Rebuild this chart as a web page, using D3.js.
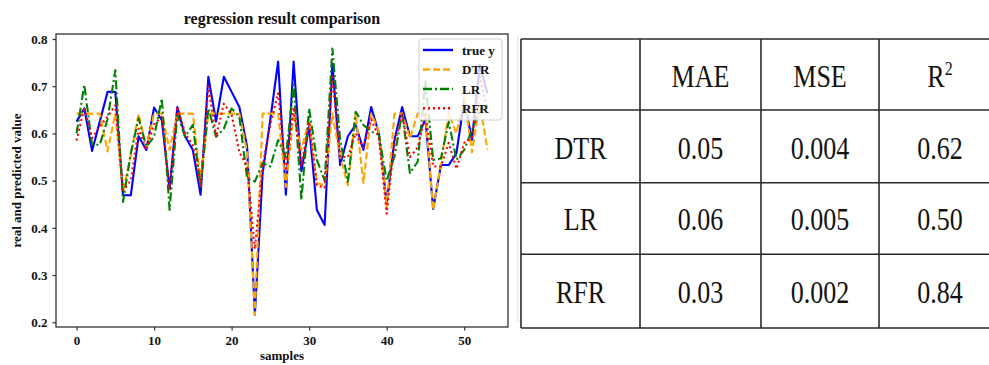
<!DOCTYPE html>
<html>
<head>
<meta charset="utf-8">
<script src="https://cdn.jsdelivr.net/npm/d3@7"></script>
<style>
  html, body { margin: 0; padding: 0; background: #fff; }
  svg { display: block; }
  text { font-family: "Liberation Serif", "Times New Roman", serif; }
</style>
</head>
<body>
<svg id="chart" width="989" height="365"></svg>
<script>
// ---------------- data ----------------
const samples = d3.range(54);
const trueY = [0.625,0.653,0.563,0.625,0.688,0.688,0.469,0.469,0.594,0.565,
               0.655,0.628,0.482,0.656,0.594,0.565,0.470,0.720,0.625,0.720,
               0.688,0.656,0.572,0.216,0.516,0.630,0.752,0.470,0.752,0.520,
               0.615,0.438,0.406,0.748,0.533,0.594,0.618,0.565,0.656,0.600,
               0.452,0.586,0.656,0.594,0.594,0.630,0.440,0.533,0.533,0.558,
               0.670,0.586,0.745,0.685];
const dtr   = [0.642,0.642,0.642,0.642,0.562,0.642,0.477,0.555,0.642,0.570,
               0.642,0.642,0.565,0.642,0.642,0.642,0.500,0.642,0.642,0.642,
               0.642,0.642,0.560,0.216,0.642,0.642,0.642,0.487,0.642,0.565,
               0.630,0.495,0.490,0.642,0.550,0.490,0.642,0.495,0.642,0.605,
               0.444,0.642,0.642,0.590,0.642,0.642,0.438,0.537,0.642,0.600,
               0.680,0.560,0.665,0.566];
const lr    = [0.600,0.703,0.576,0.576,0.630,0.734,0.455,0.558,0.632,0.572,
               0.593,0.674,0.438,0.640,0.593,0.618,0.487,0.653,0.593,0.610,
               0.653,0.635,0.505,0.498,0.537,0.530,0.586,0.550,0.703,0.459,
               0.653,0.544,0.500,0.780,0.586,0.498,0.646,0.618,0.604,0.597,
               0.500,0.550,0.643,0.516,0.540,0.710,0.544,0.547,0.625,0.544,
               0.565,0.607,0.650,0.660];
const rfr   = [0.585,0.655,0.590,0.615,0.635,0.660,0.480,0.500,0.610,0.565,
               0.620,0.635,0.480,0.657,0.600,0.575,0.490,0.700,0.593,0.663,
               0.640,0.560,0.530,0.355,0.530,0.620,0.685,0.520,0.655,0.530,
               0.625,0.490,0.485,0.720,0.550,0.550,0.600,0.570,0.630,0.590,
               0.430,0.580,0.640,0.550,0.570,0.640,0.530,0.530,0.580,0.525,
               0.580,0.590,0.720,0.650];

const seriesNames  = ["true y", "DTR", "LR", "RFR"];
const xTicks = [0, 10, 20, 30, 40, 50];
const yTicks = [0.2, 0.3, 0.4, 0.5, 0.6, 0.7, 0.8];

const tableCols = ["MAE", "MSE", "R"];
const tableRows = ["DTR", "LR", "RFR"];
const maeVals = ["0.05", "0.06", "0.03"];
const mseVals = ["0.004", "0.005", "0.002"];
const r2Vals  = ["0.62", "0.50", "0.84"];

// ---------------- chart ----------------
const svg = d3.select("#chart");
const L = 56, R = 508, T = 34, B = 327;

const x = d3.scaleLinear().domain([-2.65, 55.65]).range([L, R]);
const y = d3.scaleLinear().domain([0.19, 0.8106]).range([B, T]);

const styles = [
  { data: trueY, color: "#0000ff", dash: null },
  { data: dtr,   color: "#ffa500", dash: "7,3" },
  { data: lr,    color: "#008000", dash: "9,3,2,3" },
  { data: rfr,   color: "#ff0000", dash: "2,3" }
];

const line = d3.line().x((d, i) => x(samples[i])).y(d => y(d));

const g = svg.append("g");
styles.forEach(s => {
  g.append("path")
    .attr("d", line(s.data))
    .attr("fill", "none")
    .attr("stroke", s.color)
    .attr("stroke-width", 2.1)
    .attr("stroke-dasharray", s.dash)
    .attr("stroke-linejoin", "round");
});

// axes
const yAxis = d3.axisLeft(y).tickValues(yTicks).tickFormat(d3.format(".1f")).tickSize(3.5).tickPadding(5);
const xAxis = d3.axisBottom(x).tickValues(xTicks).tickFormat(d3.format("d")).tickSize(3.5).tickPadding(5);

const ya = svg.append("g").attr("transform", `translate(${L},0)`).call(yAxis);
const xa = svg.append("g").attr("transform", `translate(0,${B})`).call(xAxis);
[ya, xa].forEach(a => {
  a.select(".domain").remove();
  a.selectAll(".tick line").attr("stroke", "#333").attr("stroke-width", 1.2);
  a.selectAll(".tick text")
    .attr("fill", "#111")
    .style("font-family", '"Liberation Serif", serif')
    .style("font-weight", "bold")
    .style("font-size", "13px");
});

// spines
svg.append("rect")
  .attr("x", L).attr("y", T).attr("width", R - L).attr("height", B - T)
  .attr("fill", "none").attr("stroke", "#333").attr("stroke-width", 1.3);

// title & labels
svg.append("text").attr("x", (L + R) / 2).attr("y", 24).attr("text-anchor", "middle")
  .style("font-weight", "bold").style("font-size", "16px").attr("fill", "#111")
  .text("regression result comparison");
svg.append("text").attr("x", (L + R) / 2).attr("y", 360).attr("text-anchor", "middle")
  .style("font-weight", "bold").style("font-size", "13px").attr("fill", "#111")
  .text("samples");
svg.append("text").attr("transform", `translate(21,${(T + B) / 2 + 0}) rotate(-90)`)
  .attr("text-anchor", "middle")
  .style("font-weight", "bold").style("font-size", "13px").attr("fill", "#111")
  .text("real and predicted value");

// legend
const lg = svg.append("g");
lg.append("rect").attr("x", 419).attr("y", 39).attr("width", 83).attr("height", 81)
  .attr("rx", 3).attr("fill", "#fff").attr("fill-opacity", 0.8)
  .attr("stroke", "#d0d0d0").attr("stroke-width", 1);
const rowY = [50, 69.5, 89, 108.3];
styles.forEach((s, i) => {
  lg.append("line").attr("x1", 423).attr("x2", 453).attr("y1", rowY[i]).attr("y2", rowY[i])
    .attr("stroke", s.color).attr("stroke-width", 2.4).attr("stroke-dasharray", s.dash);
  lg.append("text").attr("x", 462).attr("y", rowY[i]).attr("dy", "0.35em")
    .style("font-weight", "bold").style("font-size", "13px").attr("fill", "#111")
    .text(seriesNames[i]);
});

// faint separator from original composition
svg.append("line").attr("x1", 518).attr("x2", 518).attr("y1", 37).attr("y2", 322)
  .attr("stroke", "#ddd").attr("stroke-width", 1);

// ---------------- table ----------------
const colX = [521, 640, 761, 879, 1010];
const rowYs = [39, 110, 182.7, 254.3, 328];
const tg = svg.append("g");
colX.forEach(cx => tg.append("line").attr("x1", cx).attr("x2", cx).attr("y1", rowYs[0]).attr("y2", rowYs[4])
  .attr("stroke", "#2a2a2a").attr("stroke-width", 1.6));
rowYs.forEach(ry => tg.append("line").attr("x1", colX[0]).attr("x2", colX[4]).attr("y1", ry).attr("y2", ry)
  .attr("stroke", "#2a2a2a").attr("stroke-width", 1.6));

const baselines = [86.7, 159.3, 230, 303.3];
const colCenters = [580.5, 700.5, 820, 940];
function cellText(col, row, txt) {
  return tg.append("text")
    .attr("transform", `translate(${colCenters[col]},${baselines[row]}) scale(0.84,1)`)
    .attr("text-anchor", "middle")
    .style("font-size", "31px").attr("fill", "#111")
    .text(txt);
}
tableCols.forEach((c, j) => {
  const t = cellText(j + 1, 0, c);
  if (j === 2) {
    t.append("tspan").attr("dy", -12).style("font-size", "19px").text("2");
  }
});
tableRows.forEach((r, i) => {
  cellText(0, i + 1, r);
  cellText(1, i + 1, maeVals[i]);
  cellText(2, i + 1, mseVals[i]);
  cellText(3, i + 1, r2Vals[i]);
});
</script>
</body>
</html>
